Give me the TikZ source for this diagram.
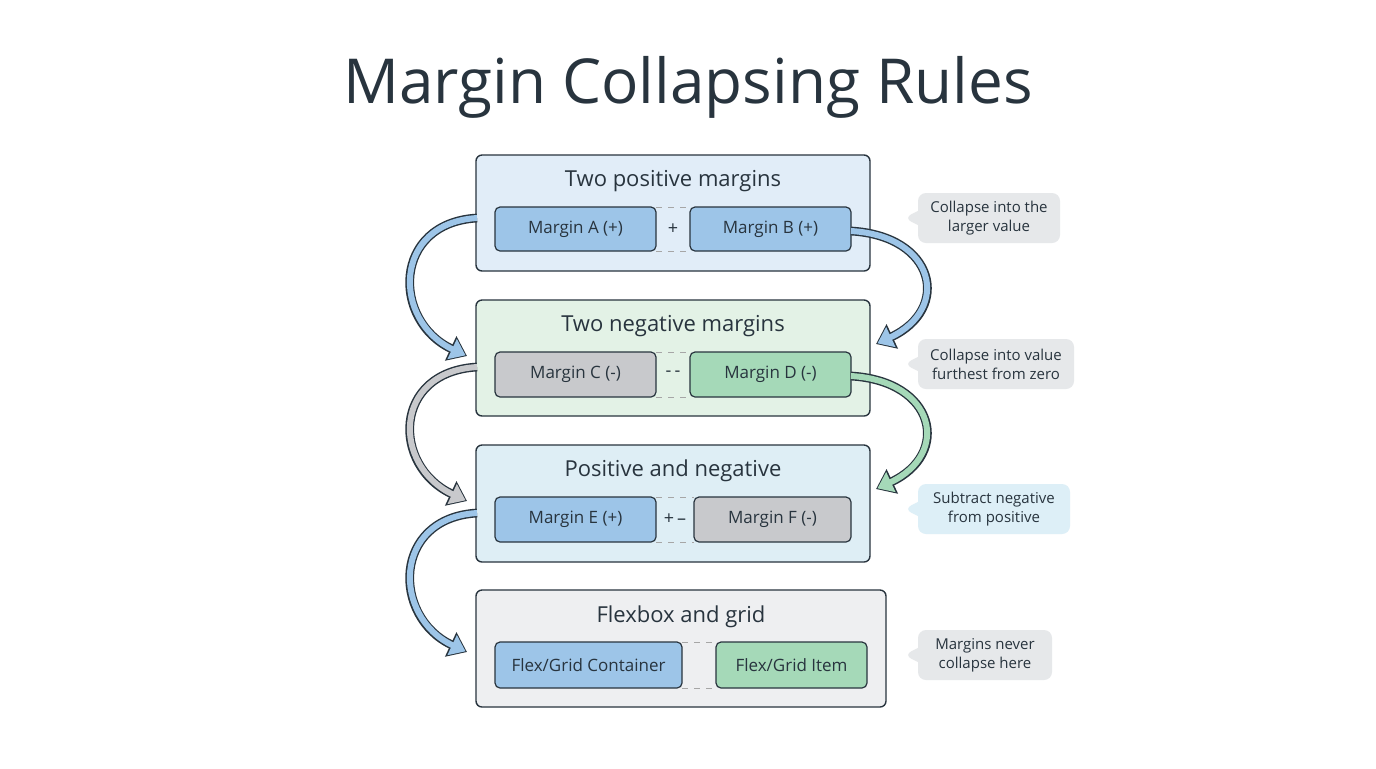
\documentclass[tikz,border=0pt]{standalone}
\usepackage{fontspec}
\setmainfont{Open Sans}
\usetikzlibrary{calc,arrows.meta,shapes.callouts}
\definecolor{ink}{RGB}{40, 52, 62}
\definecolor{pblue}{RGB}{225, 237, 248}
\definecolor{pgreen}{RGB}{227, 242, 230}
\definecolor{pcyan}{RGB}{222, 238, 245}
\definecolor{pgray}{RGB}{238, 239, 241}
\definecolor{mblue}{RGB}{157, 197, 232}
\definecolor{mgreen}{RGB}{165, 217, 184}
\definecolor{mgray}{RGB}{200, 201, 204}
\definecolor{cgray}{RGB}{230, 232, 234}
\definecolor{ccyan}{RGB}{221, 239, 247}

\tikzset{
  panel/.style={draw=ink, line width=0.7pt, rounded corners=3pt},
  margin/.style={draw=ink, line width=0.6pt, rounded corners=2.5pt, font=\fontsize{8.5}{10}\selectfont, text=ink},
  ptitle/.style={font=\fontsize{11}{13}\selectfont, text=ink},
  gap/.style={gray!70, dashed, line width=0.4pt},
  note/.style={rectangle callout, fill=#1, rounded corners=4pt, align=center, text=ink,
    font=\fontsize{7.5}{9.5}\selectfont, inner sep=0pt, callout relative pointer={(-7pt,0)}},
  flow/.style={line width=4.4pt, draw=ink, -{Triangle[length=9pt,width=13pt]}},
  flowin/.style={line width=3pt, draw=#1, -{Triangle[length=7.4pt,width=10.6pt]}, shorten >=0.8pt},
}

\begin{document}
\begin{tikzpicture}[x=0.5pt,y=-0.5pt]
\fill[white] (0,0) rectangle (1376,768);

\node[font=\fontsize{31}{36}\selectfont, text=ink] (title) at (688,87) {Margin Collapsing Rules};

% panels
\draw[panel, fill=pblue] (476,155) rectangle (870,271);
\draw[panel, fill=pgreen] (476,300) rectangle (870,416);
\draw[panel, fill=pcyan] (476,445) rectangle (870,562);
\draw[panel, fill=pgray] (476,590) rectangle (886,707);
\node[ptitle] (t1) at (673,181) {Two positive margins};
\node[ptitle] (t2) at (673,326) {Two negative margins};
\node[ptitle] (t3) at (673,471) {Positive and negative};
\node[ptitle] (t4) at (681,617) {Flexbox and grid};

% margin boxes
\draw[gap] (656,207) -- (690,207) (656,251) -- (690,251);
\draw[gap] (656,352) -- (690,352) (656,397) -- (690,397);
\draw[gap] (656,497) -- (694,497) (656,542) -- (694,542);
\draw[gap] (682,642) -- (716,642) (682,688) -- (716,688);
\draw[margin, fill=mblue] (495,207) rectangle node (ma) {Margin A (+)} (656,251);
\draw[margin, fill=mblue] (690,207) rectangle node (mb) {Margin B (+)} (851,251);
\draw[margin, fill=mgray] (495,352) rectangle node (mc) {Margin C (-)} (656,397);
\draw[margin, fill=mgreen] (690,352) rectangle node (md) {Margin D (-)} (851,397);
\draw[margin, fill=mblue] (495,497) rectangle node (me) {Margin E (+)} (656,542);
\draw[margin, fill=mgray] (694,497) rectangle node (mf) {Margin F (-)} (851,542);
\draw[margin, fill=mblue] (495,642) rectangle node (mg) {Flex/Grid Container} (682,688);
\draw[margin, fill=mgreen] (716,642) rectangle node (mh) {Flex/Grid Item} (867,688);
\node[text=ink, font=\fontsize{9}{10}\selectfont] (s1) at (673,229) {+};
\node[text=ink, font=\fontsize{9}{10}\selectfont] (s2) at (673,374) {-\,-};
\node[text=ink, font=\fontsize{9}{10}\selectfont] (s3) at (675,519) {+\,--};

% notes
\node[note=cgray, minimum width=71pt, minimum height=25pt] (n1) at (989,218) {Collapse into the\\larger value};
\node[note=cgray, minimum width=78pt, minimum height=25pt] (n2) at (996,364) {Collapse into value\\furthest from zero};
\node[note=ccyan, minimum width=76pt, minimum height=25pt] (n3) at (994,509) {Subtract negative\\from positive};
\node[note=cgray, minimum width=67pt, minimum height=25pt] (n4) at (985,655) {Margins never\\collapse here};

% arrows
\coordinate (a1s) at (477,218);  \coordinate (a1e) at (467,356);
\coordinate (b1s) at (851,231);  \coordinate (b1e) at (876,344);
\coordinate (a2s) at (477,367);  \coordinate (a2e) at (467,501);
\coordinate (b2s) at (851,376);  \coordinate (b2e) at (876,489);
\coordinate (a3s) at (477,513);  \coordinate (a3e) at (467,652);
\foreach \s/\e/\c/\dx in {a1s/a1e/mblue/-1, a2s/a2e/mgray/-1, a3s/a3e/mblue/-1, b1s/b1e/mblue/1, b2s/b2e/mgreen/1} {
  \draw[flow] (\s) .. controls ($(\s)+(\dx*85,5)$) and ($(\e)+(\dx*75,-35)$) .. (\e);
  \draw[flowin=\c] (\s) .. controls ($(\s)+(\dx*85,5)$) and ($(\e)+(\dx*75,-35)$) .. (\e);
}
\end{tikzpicture}
\end{document}
